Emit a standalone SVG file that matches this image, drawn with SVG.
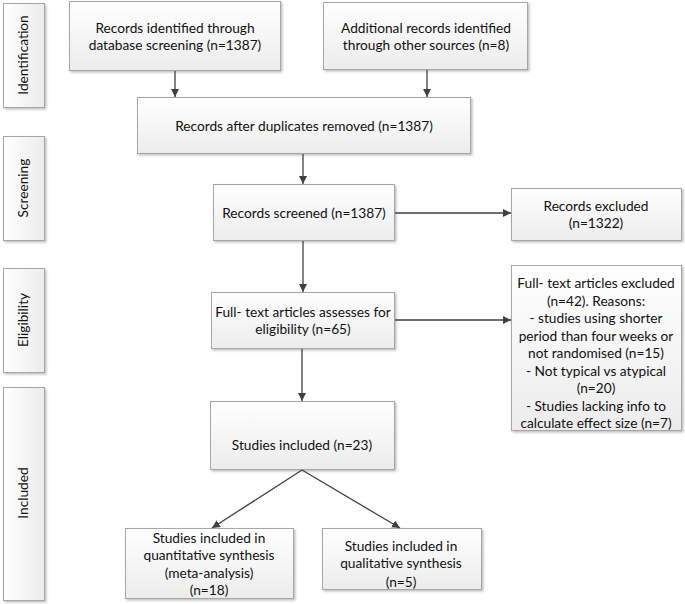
<svg xmlns="http://www.w3.org/2000/svg" width="685" height="604" viewBox="0 0 685 604">
<defs>
<linearGradient id="g" x1="0" y1="0" x2="0" y2="1"><stop offset="0" stop-color="#ffffff"/><stop offset="1" stop-color="#ececec"/></linearGradient>
<linearGradient id="gs" x1="0" y1="0" x2="1" y2="0"><stop offset="0" stop-color="#ffffff"/><stop offset="1" stop-color="#ececec"/></linearGradient>
<filter id="sh" x="-5%" y="-5%" width="115%" height="115%"><feDropShadow dx="1.5" dy="1.5" stdDeviation="0.8" flood-color="#000" flood-opacity="0.25"/></filter>
<marker id="ah" viewBox="0 0 10 10" refX="10" refY="5" markerWidth="8" markerHeight="8" markerUnits="userSpaceOnUse" orient="auto"><path d="M0,0 L10,5 L0,10 z" fill="#404040"/></marker>
<style>
.box{fill:url(#g);stroke:#a6a6a6;stroke-width:1;filter:url(#sh)}
.side{fill:url(#gs);stroke:#a6a6a6;stroke-width:1;filter:url(#sh)}
text{font-family:Lato,"Open Sans","Liberation Sans",sans-serif;font-size:13.7px;fill:#111;text-anchor:middle}
.c{stroke:#404040;stroke-width:1.3;fill:none;marker-end:url(#ah)}
</style>
</defs>
<rect width="685" height="604" fill="#fff"/>
<g id="side-identification"><rect class="side" x="3.5" y="3.5" width="41" height="104"/><text transform="translate(28,55) rotate(-90)">Identification</text></g>
<g id="side-screening"><rect class="side" x="3.5" y="136.5" width="41" height="104"/><text transform="translate(28,188) rotate(-90)">Screening</text></g>
<g id="side-eligibility"><rect class="side" x="3.5" y="268.5" width="41" height="104"/><text transform="translate(28,320) rotate(-90)">Eligibility</text></g>
<g id="side-included"><rect class="side" x="3.5" y="387.5" width="41" height="213"/><text transform="translate(28,493) rotate(-90)">Included</text></g>

<g id="n-db"><rect class="box" x="69.5" y="1.5" width="211" height="69"/><text x="175" y="33">Records identified through</text><text x="175" y="50">database screening (n=1387)</text></g>
<g id="n-other"><rect class="box" x="323.5" y="2.5" width="204" height="67"/><text x="426" y="33">Additional records identified</text><text x="426" y="50">through other sources (n=8)</text></g>
<g id="n-dup"><rect class="box" x="137.5" y="97.5" width="333" height="56"/><text x="304" y="131">Records after duplicates removed (n=1387)</text></g>
<g id="n-screened"><rect class="box" x="213.5" y="184.5" width="181" height="56"/><text x="304" y="218">Records screened (n=1387)</text></g>
<g id="n-excl"><rect class="box" x="511.5" y="188.5" width="170" height="52"/><text x="596" y="211">Records excluded</text><text x="596" y="228">(n=1322)</text></g>
<g id="n-full"><rect class="box" x="211.5" y="292.5" width="183" height="56"/><text x="303" y="317">Full- text articles assesses for</text><text x="303" y="334">eligibility (n=65)</text></g>
<g id="n-fullexcl"><rect class="box" x="511.5" y="265.5" width="170" height="165"/>
<text x="596" y="288">Full- text articles excluded</text>
<text x="596" y="306">(n=42). Reasons:</text>
<text x="596" y="323">- studies using shorter</text>
<text x="596" y="341">period than four weeks or</text>
<text x="596" y="358">not randomised (n=15)</text>
<text x="596" y="376">- Not typical vs atypical</text>
<text x="596" y="393">(n=20)</text>
<text x="596" y="411">- Studies lacking info to</text>
<text x="596" y="428">calculate effect size (n=7)</text>
</g>
<g id="n-incl"><rect class="box" x="210.5" y="401.5" width="184" height="68"/><text x="302" y="450">Studies included (n=23)</text></g>
<g id="n-quant"><rect class="box" x="125.5" y="528.5" width="168" height="70"/><text x="209" y="543">Studies included in</text><text x="209" y="560">quantitative synthesis</text><text x="209" y="578">(meta-analysis)</text><text x="209" y="595">(n=18)</text></g>
<g id="n-qual"><rect class="box" x="322.5" y="528.5" width="159" height="61"/><text x="401" y="551">Studies included in</text><text x="401" y="568">qualitative synthesis</text><text x="401" y="587">(n=5)</text></g>

<g id="connectors">
<path class="c" d="M175,71 V97"/>
<path class="c" d="M427,70 V97"/>
<path class="c" d="M303,154 V184"/>
<path class="c" d="M303,241 V292"/>
<path class="c" d="M302,349 V401"/>
<path class="c" d="M395,213 H511"/>
<path class="c" d="M395,320 H511"/>
<path class="c" d="M302,470 L212,528"/>
<path class="c" d="M302,470 L400,528"/>
</g>
</svg>
